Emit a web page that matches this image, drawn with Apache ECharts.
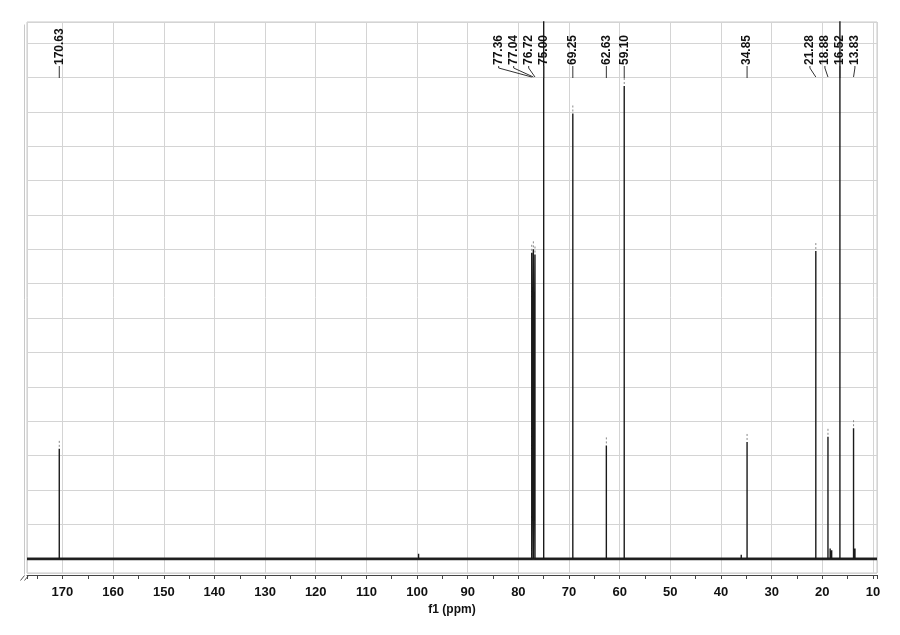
<!DOCTYPE html>
<html>
<head>
<meta charset="utf-8">
<title>13C NMR spectrum</title>
<script src="https://cdn.jsdelivr.net/npm/echarts@6.0.0/dist/echarts.min.js"></script>
<style>
  html, body { margin: 0; padding: 0; background: #fff; }
  #chart { width: 900px; height: 635px; }
</style>
</head>
<body>
<div id="chart"></div>
<script>
// peak list: shift (ppm) and height in grid steps (one step = one horizontal grid line)
const peakPpm = [170.63, 77.36, 77.04, 76.72, 75.00, 69.25, 62.63, 59.10, 34.85, 21.28, 18.88, 16.52, 13.83]
const peakHeight = [3.2, 8.9, 9.0, 8.85, 20, 12.95, 3.3, 13.75, 3.4, 8.95, 3.55, 20, 3.8]
const peakLabels = ['170.63', '77.36', '77.04', '76.72', '75.00', '69.25', '62.63', '59.10', '34.85', '21.28', '18.88', '16.52', '13.83']

// small bumps on the baseline
const minorPpm = [99.7, 36.0, 18.45, 18.15, 13.55]
const minorHeight = [0.15, 0.12, 0.3, 0.25, 0.3]

const xRange = [9.2, 177.0]
const yRange = [-0.41, 15.61]

const font = 'Liberation Sans, Arial, sans-serif'
const labelGap = 15 // min distance between peak labels, px

// spectrum as vertical sticks on a flat baseline
function buildSpectrum() {
  const sticks = []
  peakPpm.forEach((p, i) => sticks.push([p, peakHeight[i]]))
  minorPpm.forEach((p, i) => sticks.push([p, minorHeight[i]]))
  sticks.sort((a, b) => b[0] - a[0])
  const pts = [[xRange[1], 0]]
  sticks.forEach(s => {
    pts.push([s[0], 0], [s[0], s[1]], [s[0], 0])
  })
  pts.push([xRange[0], 0])
  return pts
}

// spread crowded labels, tallest peak of a cluster keeps its place
function layoutLabels(api) {
  const px = peakPpm.map(p => api.coord([p, 0])[0])
  const order = px.map((x, i) => i).sort((a, b) => px[a] - px[b])
  const clusters = []
  let cur = [order[0]]
  for (let k = 1; k < order.length; k++) {
    if (px[order[k]] - px[order[k - 1]] < labelGap) {
      cur.push(order[k])
    } else {
      clusters.push(cur)
      cur = [order[k]]
    }
  }
  clusters.push(cur)
  const pos = px.slice()
  clusters.forEach(c => {
    let a = 0
    c.forEach((idx, j) => { if (peakHeight[idx] > peakHeight[c[a]]) a = j })
    for (let j = a - 1; j >= 0; j--) pos[c[j]] = Math.min(px[c[j]], pos[c[j + 1]] - labelGap)
    for (let j = a + 1; j < c.length; j++) pos[c[j]] = Math.max(px[c[j]], pos[c[j - 1]] + labelGap)
  })
  return { px, pos }
}

function renderPeakLabel(params, api) {
  const i = api.value(2)
  const top = params.coordSys.y
  const lay = layoutLabels(api)
  const px = lay.px[i]
  const lx = lay.pos[i]
  const textY = top + 43
  const children = [{
    type: 'text',
    x: lx,
    y: textY,
    rotation: Math.PI / 2,
    style: {
      text: peakLabels[i],
      fill: '#111',
      font: 'bold 12px ' + font,
      align: 'left',
      verticalAlign: 'middle'
    }
  }, {
    type: 'polyline',
    shape: {
      points: Math.abs(lx - px) < 0.5
        ? [[lx, textY + 1], [px, top + 56]]
        : [[lx, textY + 1], [lx, textY + 3], [px, top + 55]]
    },
    style: { stroke: '#333', lineWidth: 1, fill: null }
  }]
  // little dashed marker above the peak top
  const peakTop = api.coord([peakPpm[i], peakHeight[i]])[1]
  if (peakTop > top + 60) {
    children.push({
      type: 'line',
      shape: { x1: px, y1: peakTop - 2, x2: px, y2: peakTop - 10 },
      style: { stroke: '#888', lineWidth: 1, lineDash: [2, 2] }
    })
  }
  return { type: 'group', children }
}

const chart = echarts.init(document.getElementById('chart'))

chart.setOption({
  animation: false,
  backgroundColor: '#fff',
  grid: {
    left: 27,
    right: 23,
    top: 22,
    bottom: 62,
    show: true,
    borderColor: '#c8c8c8',
    borderWidth: 1
  },
  xAxis: {
    type: 'value',
    inverse: true,
    min: xRange[0],
    max: xRange[1],
    splitNumber: 16,
    offset: 2,
    name: 'f1 (ppm)',
    nameLocation: 'middle',
    nameGap: 25,
    nameTextStyle: { fontFamily: font, fontWeight: 'bold', fontSize: 12, color: '#111' },
    axisLine: { show: true, onZero: false, lineStyle: { color: '#444', width: 1 } },
    axisTick: { show: true, length: 4, lineStyle: { color: '#444' } },
    minorTick: { show: true, splitNumber: 2, length: 4, lineStyle: { color: '#444' } },
    axisLabel: {
      fontFamily: font,
      fontWeight: 'bold',
      fontSize: 13,
      color: '#111',
      margin: 11,
      showMinLabel: false,
      showMaxLabel: false
    },
    splitLine: { show: true, lineStyle: { color: '#d4d4d4', width: 1 } }
  },
  yAxis: {
    type: 'value',
    min: yRange[0],
    max: yRange[1],
    splitNumber: 16,
    axisLine: { show: false },
    axisTick: { show: false },
    axisLabel: { show: false },
    splitLine: { show: true, lineStyle: { color: '#d4d4d4', width: 1 } }
  },
  graphic: [
    // outer frame edge and axis break marks at the lower left
    { type: 'line', left: 22, top: 22, shape: { x1: 0, y1: 0, x2: 0, y2: 550 }, style: { stroke: '#c8c8c8', lineWidth: 1 } },
    { type: 'line', left: 18, top: 573, shape: { x1: 0, y1: 5, x2: 4, y2: 0 }, style: { stroke: '#555', lineWidth: 1 } },
    { type: 'line', left: 22, top: 573, shape: { x1: 0, y1: 5, x2: 4, y2: 0 }, style: { stroke: '#555', lineWidth: 1 } }
  ],
  series: [{
    name: 'baseline',
    type: 'line',
    data: [[xRange[1], 0], [xRange[0], 0]],
    symbol: 'none',
    lineStyle: { color: '#2a2a2a', width: 2.8 },
    z: 2
  }, {
    name: 'spectrum',
    type: 'line',
    data: buildSpectrum(),
    symbol: 'none',
    lineStyle: { color: '#1a1a1a', width: 1.4 },
    z: 3
  }, {
    name: 'labels',
    type: 'custom',
    data: peakPpm.map((p, i) => [p, peakHeight[i], i]),
    encode: { x: 0, y: 1 },
    clip: false,
    renderItem: renderPeakLabel,
    z: 4
  }]
})
</script>
</body>
</html>
